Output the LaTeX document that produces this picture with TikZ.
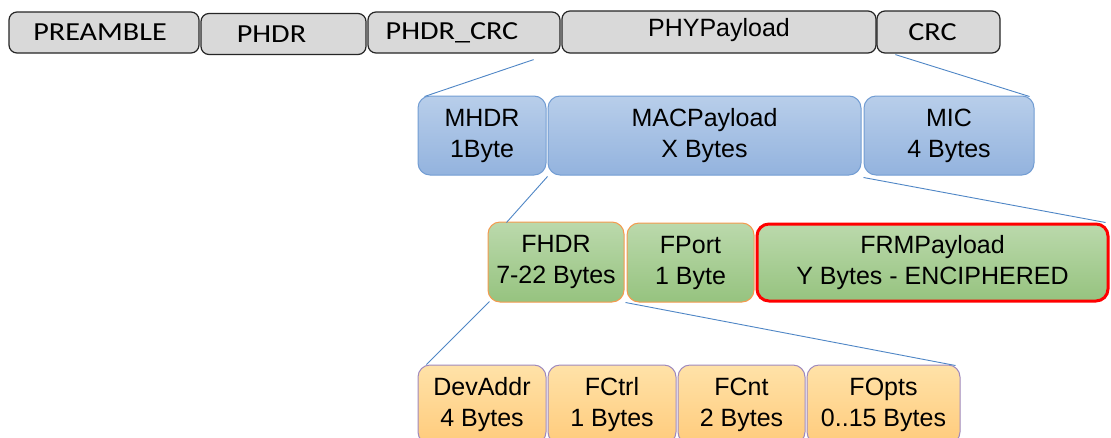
\documentclass[tikz,border=0pt]{standalone}
\usepackage{fontspec}
\setmainfont{Liberation Sans}
\newfontfamily\topfont[FakeStretch=1.16]{Carlito}
\definecolor{phyfill}{HTML}{D9D9D9}
\definecolor{phyline}{HTML}{262626}
\definecolor{bluetop}{HTML}{B8CEEA}
\definecolor{bluebot}{HTML}{93B3DE}
\definecolor{blueline}{HTML}{729DD3}
\definecolor{greentop}{HTML}{BBD9AC}
\definecolor{greenbot}{HTML}{96C37F}
\definecolor{orangeline}{HTML}{F59A4E}
\definecolor{redline}{HTML}{FF0000}
\definecolor{ambertop}{HTML}{FFE2A8}
\definecolor{amberbot}{HTML}{FFCB7C}
\definecolor{purpleline}{HTML}{9F89BE}
\definecolor{linkline}{HTML}{4F86C6}
\tikzset{
  cell/.style={inner sep=0pt, align=center, text=black},
  phycell/.style={cell, draw=phyline, line width=1.2pt, fill=phyfill,
    rounded corners=8pt, minimum height=41pt,
    font=\topfont\fontsize{26}{31}\selectfont},
  maccell/.style={cell, draw=blueline, line width=1pt, top color=bluetop,
    bottom color=bluebot, rounded corners=12pt, minimum height=79pt,
    font=\fontsize{25}{31}\selectfont},
  framecell/.style={cell, draw=orangeline, line width=1pt, top color=greentop,
    bottom color=greenbot, rounded corners=12pt, minimum height=79pt,
    font=\fontsize{25}{31}\selectfont},
  ciphercell/.style={framecell, draw=redline, line width=3pt},
  hdrcell/.style={cell, draw=purpleline, line width=1pt, top color=ambertop,
    bottom color=amberbot, rounded corners=12pt, minimum height=79pt,
    font=\fontsize{25}{31}\selectfont},
  link/.style={draw=linkline, line width=0.9pt}
}
\begin{document}
\begin{tikzpicture}[x=1pt,y=-1pt]
\clip (0,0) rectangle (1111,437);
\fill[white] (0,0) rectangle (1111,437);

% physical layer frame
\node[phycell, minimum width=190pt] (pre) at (104,32.5) {PREAMBLE\hspace*{8pt}};
\node[phycell, minimum width=165pt] (phdr) at (283.5,34) {PHDR\hspace*{24pt}};
\node[phycell, minimum width=192pt] (phdrcrc) at (464,32.5) {PHDR\_CRC\hspace*{24pt}};
\node[phycell, minimum width=314pt, minimum height=42pt,
  font=\fontsize{25}{31}\selectfont] (phy) at (719,32)
  {\raisebox{2pt}[\height][\depth]{PHYPayload}};
\node[phycell, minimum width=123pt, minimum height=42pt] (crc) at (938.5,32)
  {CRC\hspace*{12pt}};

% MAC layer
\node[maccell, minimum width=128pt] (mhdr) at (482,135.5) {MHDR\\1Byte};
\node[maccell, minimum width=313pt] (macp) at (704.5,135.5) {MACPayload\\X Bytes};
\node[maccell, minimum width=170pt] (mic) at (949,135.5) {MIC\\4 Bytes};

% MAC payload
\node[framecell, minimum width=136pt, minimum height=80pt] (fhdr) at (556,262) {FHDR\\7-22 Bytes};
\node[framecell, minimum width=127pt] (fport) at (690.5,262.5) {FPort\\1 Byte};
\node[ciphercell, minimum width=351pt, minimum height=77pt] (frm) at (932.5,262.5)
  {FRMPayload\\Y Bytes - ENCIPHERED};

% frame header
\node[hdrcell, minimum width=128pt] (devaddr) at (482,404.5) {DevAddr\\4 Bytes};
\node[hdrcell, minimum width=128pt] (fctrl) at (612,404.5) {FCtrl\\1 Bytes};
\node[hdrcell, minimum width=127pt] (fcnt) at (741.5,404.5) {FCnt\\2 Bytes};
\node[hdrcell, minimum width=153pt] (fopts) at (883.5,404.5) {FOpts\\0..15 Bytes};

% expansion lines
\draw[link] ([shift={(-27,6)}]phdrcrc.south east) -- ([shift={(7,1)}]mhdr.north west);
\draw[link] ([shift={(19,1)}]crc.south west) -- ([shift={(-5,1)}]mic.north east);
\draw[link] ([shift={(1,1)}]mhdr.south east) -- ([shift={(19,1)}]fhdr.north west);
\draw[link] ([shift={(2,2)}]macp.south east) -- ([shift={(-4,0)}]frm.north east);
\draw[link] ([shift={(2,-1)}]fhdr.south west) -- ([shift={(9,0)}]devaddr.north west);
\draw[link] ([shift={(1,0)}]fhdr.south east) -- ([shift={(-5,1)}]fopts.north east);
\end{tikzpicture}
\end{document}
